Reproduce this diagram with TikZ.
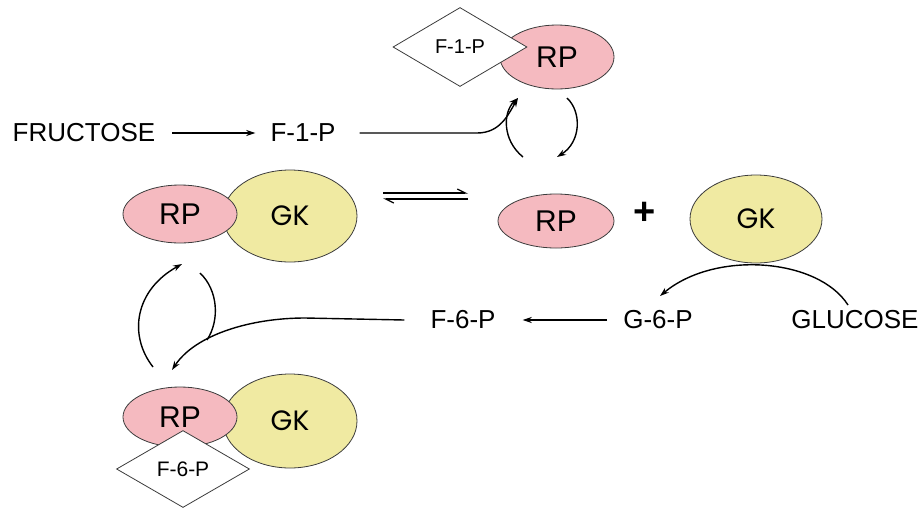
\documentclass[tikz,border=0pt]{standalone}
\usepackage{fontspec}
\setmainfont{Liberation Sans}
\newfontfamily\gkfont{Poppins}
\usetikzlibrary{shapes.geometric,arrows.meta}
\definecolor{rpfill}{RGB}{245,186,192}
\definecolor{gkfill}{RGB}{240,234,162}
\definecolor{edgec}{RGB}{60,60,60}
\begin{document}
\begin{tikzpicture}[x=1pt,y=-1pt,
  rpnode/.style={ellipse,draw=edgec,line width=0.8pt,fill=rpfill,inner sep=0pt,font=\fontsize{30}{30}\selectfont},
  gknode/.style={ellipse,draw=edgec,line width=0.8pt,fill=gkfill,inner sep=0pt,font=\gkfont\fontsize{28}{28}\selectfont},
  tag/.style={diamond,aspect=1.7,draw=edgec,line width=0.8pt,fill=white,inner sep=0pt,font=\fontsize{20}{20}\selectfont},
  txt/.style={inner sep=0pt,font=\fontsize{26}{26}\selectfont},
  arr/.style={line width=1.4pt,-{Stealth[length=9pt,width=6pt]}},
  ln/.style={line width=1.4pt},
  harp/.style={line width=1.3pt,-{Straight Barb[harpoon,length=8pt,width=8pt]}},
]
\useasboundingbox (0,0) rectangle (924,507);
% top complex
\node[rpnode,minimum width=114pt,minimum height=64pt] (rp1) at (557,57) {RP};
\node[tag,minimum width=134pt,minimum height=79pt] (tag1) at (460,47) {F-1-P};
% middle left complex
\node[gknode,minimum width=134pt,minimum height=92pt] (gk1) at (290,216) {GK};
\node[rpnode,minimum width=114pt,minimum height=58pt] (rp3) at (180,214) {RP};
% middle right
\node[rpnode,minimum width=116pt,minimum height=54pt] (rp2) at (556,221) {RP};
\node[inner sep=0pt,font=\bfseries\fontsize{38}{38}\selectfont] (plus) at (645,213) {+};
\node[gknode,minimum width=132pt,minimum height=88pt] (gk2) at (756,219) {GK};
% bottom complex
\node[gknode,minimum width=134pt,minimum height=94pt] (gk3) at (290,421) {GK};
\node[rpnode,minimum width=114pt,minimum height=60pt] (rp4) at (180,417) {RP};
\node[tag,minimum width=133pt,minimum height=77pt,font=\fontsize{21}{21}\selectfont] (tag2) at (183,469) {F-6-P};
% texts
\node[txt] (fru) at (84,133) {FRUCTOSE};
\node[txt] (f1p) at (303,133) {F-1-P};
\node[txt] (g6p) at (658,320) {G-6-P};
\node[txt] (glu) at (855,320) {GLUCOSE};
\node[txt] (f6p) at (463,320) {F-6-P};
% coordinates
\coordinate (t1) at (518,98);
\coordinate (a1) at (523,157);
\coordinate (b1) at (567,98);
\coordinate (b2) at (557,157);
\coordinate (e1) at (383,193);
\coordinate (e2) at (468,193);
\coordinate (e3) at (468,199);
\coordinate (e4) at (383,199);
\coordinate (gs) at (848,305);
\coordinate (gt) at (660,296);
\coordinate (ft) at (172,370);
\coordinate (c1) at (153,367);
\coordinate (c2) at (182,264);
\coordinate (d1) at (200,273);
\coordinate (d2) at (207,340);
% connectors
\draw[arr] ([xshift=17pt]fru.east) -- ([xshift=-15pt]f1p.west);
\draw[arr] ([xshift=24pt]f1p.east) -- (477,133) .. controls (500,133) and (508,115) .. (t1);
\draw[arr] (a1) .. controls (502,140) and (503,112) .. (t1);
\draw[arr] (b1) .. controls (582,112) and (581,142) .. (b2);
\draw[harp] (e1) -- (e2);
\draw[harp] (e3) -- (e4);
\draw[arr] (gs) .. controls (818,258) and (715,250) .. (gt);
\draw[arr] ([xshift=-16pt]g6p.west) -- ([xshift=27pt]f6p.east);
\draw[arr] ([xshift=-26pt]f6p.west) -- (305,318) .. controls (250,318) and (195,335) .. (ft);
\draw[arr] (c1) .. controls (128,335) and (135,290) .. (c2);
\draw[ln] (d1) .. controls (218,290) and (220,320) .. (d2);
\end{tikzpicture}
\end{document}
